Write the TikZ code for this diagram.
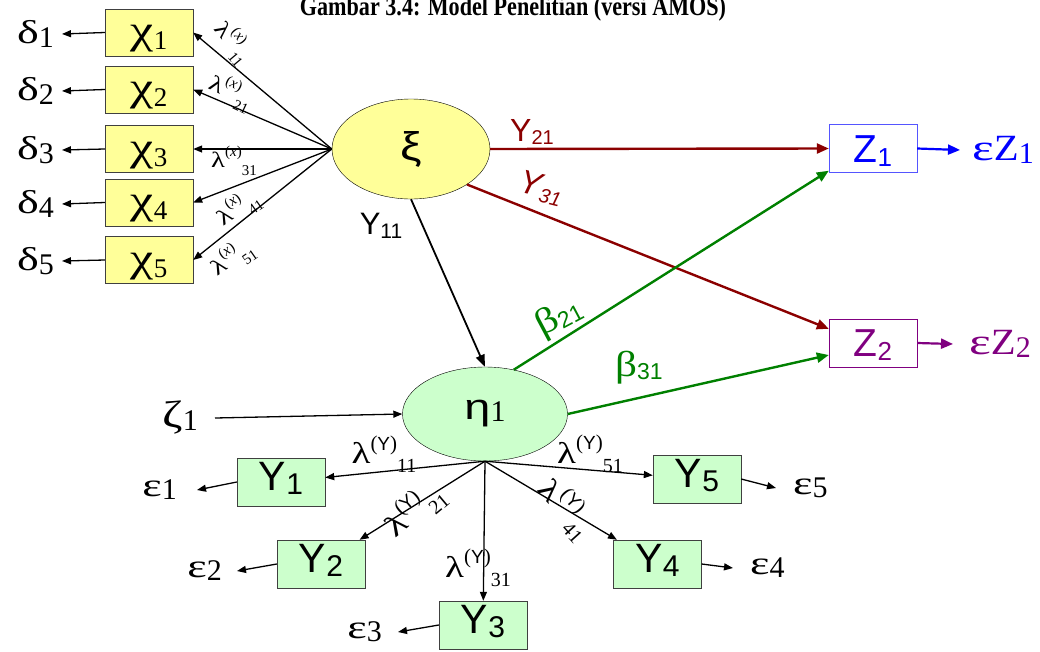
\documentclass[tikz,border=0pt]{standalone}
\usepackage{graphicx}
\usepackage{fontspec}
\setmainfont{Liberation Serif}
\setsansfont{Liberation Sans}
\usetikzlibrary{arrows.meta,shapes.geometric}
\definecolor{boxyel}{HTML}{FFFF99}
\definecolor{boxgrn}{HTML}{CCFFCC}
\definecolor{dred}{HTML}{8B0000}
\definecolor{dgreen}{HTML}{008000}
\definecolor{dpurple}{HTML}{800080}
\definecolor{zblue}{HTML}{0000FF}
\definecolor{zblueline}{HTML}{5555FF}
\definecolor{edgegray}{HTML}{404040}
\newcommand\fs[1]{\fontsize{#1}{#1}\selectfont}
\newcommand\gs[2][1.4]{\scalebox{#1}[1]{#2}}
\newcommand\dg[2]{\raisebox{-#2}{\fs{30}#1}}
\newcommand\lx[1]{\gs[1.3]{λ}\raisebox{0.5em}{\fs{15}(\textit{x})}\raisebox{-0.35em}{\fs{15}#1}}
\newcommand\ly[1]{\gs[1.3]{λ}\raisebox{0.45em}{\fs{21}(\textsf{\fs{19}Y})}\raisebox{-0.3em}{\fs{20}#1}}
\newcommand\chilbl[1]{\raisebox{6pt}{\gs[1.3]{χ}}{\fs{27}#1}}
\tikzset{
  chibox/.style={draw=edgegray, fill=boxyel, minimum width=88pt, minimum height=47pt, inner sep=0pt, text height=34pt, text depth=0pt, font=\fs{40}},
  ybox/.style={draw=edgegray, fill=boxgrn, minimum width=88pt, minimum height=48pt, inner sep=0pt, text height=29pt, text depth=13pt, font=\sffamily\fs{41}},
  zbox/.style={fill=white, minimum width=88pt, minimum height=48pt, inner sep=0pt, text height=28pt, text depth=1pt, font=\sffamily\fs{39}},
  arr/.style={-{Triangle[length=9pt,width=7pt]}, line width=1.3pt},
  carr/.style={-{Triangle[length=12pt,width=10pt]}, line width=2.4pt},
  lbl/.style={font=\fs{33}, inner sep=0pt},
  lamx/.style={font=\fs{22}, inner sep=0pt},
  lamy/.style={font=\fs{30}, inner sep=0pt},
  coef/.style={font=\sffamily\fs{32}, inner sep=0pt},
}
\begin{document}
\begin{tikzpicture}[x=1pt,y=-1pt]
\useasboundingbox (0,0) rectangle (1040,651);
% title
\node[anchor=base, font=\bfseries\fs{27}, inner sep=0pt] (title) at (513,15) {\scalebox{0.82}[1]{Gambar 3.4: Model Penelitian (versi AMOS)}};
% chi boxes
\node[chibox] (x1) at (149,32.5) {\chilbl{1}};
\node[chibox] (x2) at (149,89.5) {\chilbl{2}};
\node[chibox] (x3) at (149,149) {\chilbl{3}};
\node[chibox] (x4) at (149,202.5) {\chilbl{4}};
\node[chibox] (x5) at (149,260) {\chilbl{5}};
% deltas
\node[lbl, anchor=east, inner xsep=8pt] (d1) at (62,34) {\gs{δ}\dg{1}{4pt}};
\node[lbl, anchor=east, inner xsep=8pt] (d2) at (62,91) {\gs{δ}\dg{2}{4pt}};
\node[lbl, anchor=east, inner xsep=8pt] (d3) at (62,150) {\gs{δ}\dg{3}{4pt}};
\node[lbl, anchor=east, inner xsep=8pt] (d4) at (62,204) {\gs{δ}\dg{4}{4pt}};
\node[lbl, anchor=east, inner xsep=8pt] (d5) at (62,261) {\gs{δ}\dg{5}{4pt}};
\foreach \i in {1,...,5} \draw[arr] (x\i.west) -- (d\i.east);
% xi
\node[ellipse, draw=black, fill=boxyel, minimum width=158pt, minimum height=100pt, inner sep=0pt, font=\sffamily\fs{40}] (xi) at (411,149) {\gs[1.2]{ξ}};
\coordinate (xihub) at (xi.west);
\foreach \i in {1,...,5} \draw[arr] (xihub) -- (x\i.east);
\node[lamx, rotate=-50] (lx1) at (233,42) {\lx{11}};
\node[lamx, rotate=-25] (lx2) at (231,92) {\lx{21}};
\node[lamx] (lx3) at (234,161) {\lx{31}};
\node[lamx, rotate=35] (lx4) at (238,208) {\lx{41}};
\node[lamx, rotate=35] (lx5) at (232,258) {\lx{51}};
% eta
\node[ellipse, draw=black, fill=boxgrn, minimum width=165pt, minimum height=94pt, inner sep=0pt, font=\sffamily\fs{36}] (eta) at (485,414) {\gs[1.3]{η}\raisebox{-2pt}{\rmfamily\fs{30}1}};
% Z boxes
\node[zbox, draw=zblueline, text=zblue] (z1) at (873,148.5) {Z\raisebox{-4pt}{\fs{26}1}};
\node[zbox, draw=dpurple, text=dpurple] (z2) at (873,343) {Z\raisebox{-4pt}{\fs{26}2}};
\node[lbl, anchor=west, inner xsep=12pt, text=zblue, font=\fs{37}] (ez1) at (960,150) {\gs[1.4]{ε}\gs[1.1]{Z}\raisebox{-3pt}{\fs{30}1}};
\node[lbl, anchor=west, inner xsep=16pt, text=dpurple, font=\fs{37}] (ez2) at (953,344) {\gs[1.4]{ε}\gs[1.1]{Z}\raisebox{-3pt}{\fs{30}2}};
\draw[carr, zblue, line width=2.2pt] (z1.east) -- (ez1.west);
\draw[carr, dpurple, line width=2.2pt] (z2.east) -- (ez2.west);
% structural paths
\draw[carr, dred] (xi.east) -- (z1.west);
\draw[carr, dred] (xi.south east) -- ([yshift=-10pt]z2.north west);
\draw[arr, line width=1.8pt, -{Triangle[length=12pt,width=9pt]}] (xi.south) -- (eta.north);
\draw[carr, dgreen] (eta.57) -- ([yshift=2pt]z1.south west);
\draw[carr, dgreen] (eta.east) -- ([yshift=-12pt]z2.west);
\node[coef, text=dred] (g21) at (532,132) {Y\raisebox{-3pt}{\fs{20}21}};
\node[coef, text=dred, font=\sffamily\itshape\fs{33}, rotate=-14] (g31) at (541,188) {Y\raisebox{-5pt}{\fs{20}31}};
\node[coef, text=black, font=\sffamily\fs{31}] (g11) at (381,226) {Y\raisebox{-4pt}{\fs{21}11}};
\node[coef, text=dgreen, rotate=28, font=\fs{36}] (b21) at (559,318) {\gs[1.2]{β}\raisebox{-3pt}{\sffamily\fs{23}21}};
\node[coef, text=dgreen, font=\fs{36}] (b31) at (639,368) {\gs[1.2]{β}\raisebox{-3pt}{\sffamily\fs{23}31}};
% zeta
\node[lbl, anchor=east, inner xsep=17pt, font=\fs{38}] (zeta) at (215,418) {\gs[1.3]{ζ}\dg{1}{3pt}};
\draw[arr] (zeta.east) -- (eta.west);
% Y boxes
\node[ybox] (y1) at (281,482) {Y\raisebox{-4pt}{\fs{30}1}};
\node[ybox] (y2) at (321,564) {Y\raisebox{-4pt}{\fs{30}2}};
\node[ybox] (y3) at (483,625) {Y\raisebox{-4pt}{\fs{30}3}};
\node[ybox] (y4) at (657.5,564) {Y\raisebox{-4pt}{\fs{30}4}};
\node[ybox] (y5) at (697,479) {Y\raisebox{-4pt}{\fs{30}5}};
\coordinate (etahub) at (eta.south);
\foreach \i in {1,...,5} \draw[arr] (etahub) -- (y\i);
% epsilons
\node[lbl, anchor=east, inner xsep=20pt] (e1) at (197,490) {\gs{ε}\dg{1}{3pt}};
\node[lbl, anchor=east, inner xsep=15pt] (e2) at (237,571) {\gs{ε}\dg{2}{3pt}};
\node[lbl, anchor=east, inner xsep=16pt] (e3) at (398,632) {\gs{ε}\dg{3}{3pt}};
\node[lbl, anchor=west, inner xsep=17pt] (e4) at (733,568) {\gs{ε}\dg{4}{3pt}};
\node[lbl, anchor=west, inner xsep=17pt] (e5) at (776,488) {\gs{ε}\dg{5}{3pt}};
\draw[arr] (y1.west) -- (e1.east);
\draw[arr] (y2.west) -- (e2.east);
\draw[arr] (y3.west) -- (e3.east);
\draw[arr] (y4.east) -- (e4.west);
\draw[arr] (y5.east) -- (e5.west);
% lambda y labels
\node[lamy] (ly1) at (384,454) {\ly{11}};
\node[lamy, rotate=40] (ly2) at (414,510) {\ly{21}};
\node[lamy] (ly3) at (478,568) {\ly{31}};
\node[lamy, rotate=-48] (ly4) at (566,508) {\ly{41}};
\node[lamy] (ly5) at (590,454) {\ly{51}};
\end{tikzpicture}
\end{document}
